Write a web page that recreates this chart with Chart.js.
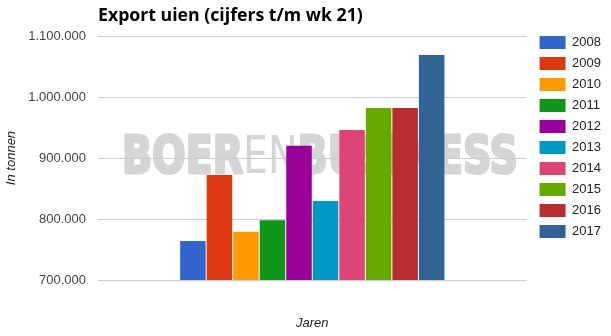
<!DOCTYPE html>
<html>
<head>
<meta charset="utf-8">
<script src="https://cdn.jsdelivr.net/npm/chart.js@4/dist/chart.umd.min.js"></script>
<style>
    html, body { margin: 0; padding: 0; background: #fff; }
    #wrap { width: 611px; height: 336px; }
</style>
</head>
<body>
<div id="wrap"><canvas id="chart"></canvas></div>
<script>
const categories = [""];
const years = ["2008", "2009", "2010", "2011", "2012", "2013", "2014", "2015", "2016", "2017"];
const exportTonnes = [764000, 872000, 779000, 798000, 920000, 829500, 946000, 982000, 982000, 1069000];
const yearColors = ["#3366cc", "#dc3912", "#ff9900", "#109618", "#990099", "#0099c6", "#dd4477", "#66aa00", "#b82e2e", "#316395"];
const yTicks = [700000, 800000, 900000, 1000000, 1100000];

const fmt = (v) => String(v).replace(/\B(?=(\d{3})+(?!\d))/g, ".");

// grey publisher watermark behind the grid
const watermark = {
    id: "watermark",
    beforeDraw(chart) {
        const ctx = chart.ctx;
        const parts = [["BOER", "bold", 2.5], ["EN", "normal", 0], ["BUSINESS", "bold", 2.5]];
        const size = 42;
        ctx.save();
        let total = 0;
        const widths = parts.map(([t, w]) => {
            ctx.font = w + " " + size + 'px "DejaVu Sans"';
            const m = ctx.measureText(t).width;
            total += m;
            return m;
        });
        ctx.translate(122, 173);
        ctx.scale(396 / total, 38 / (0.729 * size));
        ctx.fillStyle = "#d5d5d5";
        ctx.strokeStyle = "#d5d5d5";
        ctx.lineJoin = "round";
        ctx.textBaseline = "alphabetic";
        let x = 0;
        parts.forEach(([t, w, sw], i) => {
            ctx.font = w + " " + size + 'px "DejaVu Sans"';
            ctx.fillText(t, x, 0);
            if (sw) {
                ctx.lineWidth = sw;
                ctx.strokeText(t, x, 0);
            }
            x += widths[i];
        });
        ctx.restore();
    },
};

Chart.defaults.font.family = '"Liberation Sans", Arial, sans-serif';
Chart.defaults.font.size = 13;
Chart.defaults.color = "#222";

new Chart(document.getElementById("chart"), {
    type: "bar",
    data: {
        labels: categories,
        datasets: years.map((y, i) => ({
            label: y,
            data: [exportTonnes[i]],
            backgroundColor: yearColors[i],
            borderWidth: 0,
            categoryPercentage: 0.619,
            barPercentage: 0.962,
        })),
    },
    options: {
        responsive: true,
        maintainAspectRatio: false,
        animation: false,
        layout: { padding: 0 },
        plugins: {
            tooltip: { enabled: false },
            title: {
                display: true,
                text: "Export uien (cijfers t/m wk 21)",
                align: "start",
                fullSize: false,
                color: "#000",
                font: { family: '"Open Sans"', size: 17.7, weight: "bold" },
                padding: { top: 5.4, bottom: 9.4 },
            },
            legend: {
                position: "right",
                align: "start",
                title: { display: true, text: "", font: { size: 10 }, padding: { top: 16, bottom: 0 } },
                labels: {
                    boxWidth: 26,
                    boxHeight: 13,
                    padding: 8,
                    color: "#222",
                    font: { size: 13 },
                },
            },
        },
        scales: {
            x: {
                grid: { display: false },
                border: { display: false },
                ticks: { display: false },
                title: {
                    display: true,
                    text: "Jaren",
                    color: "#222",
                    font: { size: 13, style: "italic" },
                    padding: { top: 0, bottom: 5 },
                },
                afterFit(scale) { scale.height = 56; },
            },
            y: {
                min: 700000,
                max: 1100000,
                afterBuildTicks(scale) { scale.ticks = yTicks.map((v) => ({ value: v })); },
                grid: { color: "#cccccc", drawTicks: false },
                border: { display: false },
                ticks: {
                    padding: 12,
                    color: "#444",
                    font: { size: 13 },
                    callback: (v) => fmt(v),
                },
                title: {
                    display: true,
                    text: "In tonnen",
                    color: "#222",
                    font: { size: 13, style: "italic" },
                    padding: { top: 4, bottom: 0 },
                },
                afterFit(scale) { scale.width = 98; },
            },
            spacer: {
                type: "linear",
                position: "right",
                grid: { display: false },
                border: { display: false },
                ticks: { display: false },
                afterFit(scale) { scale.width = 5; },
            },
        },
    },
    plugins: [watermark],
});
</script>
</body>
</html>
